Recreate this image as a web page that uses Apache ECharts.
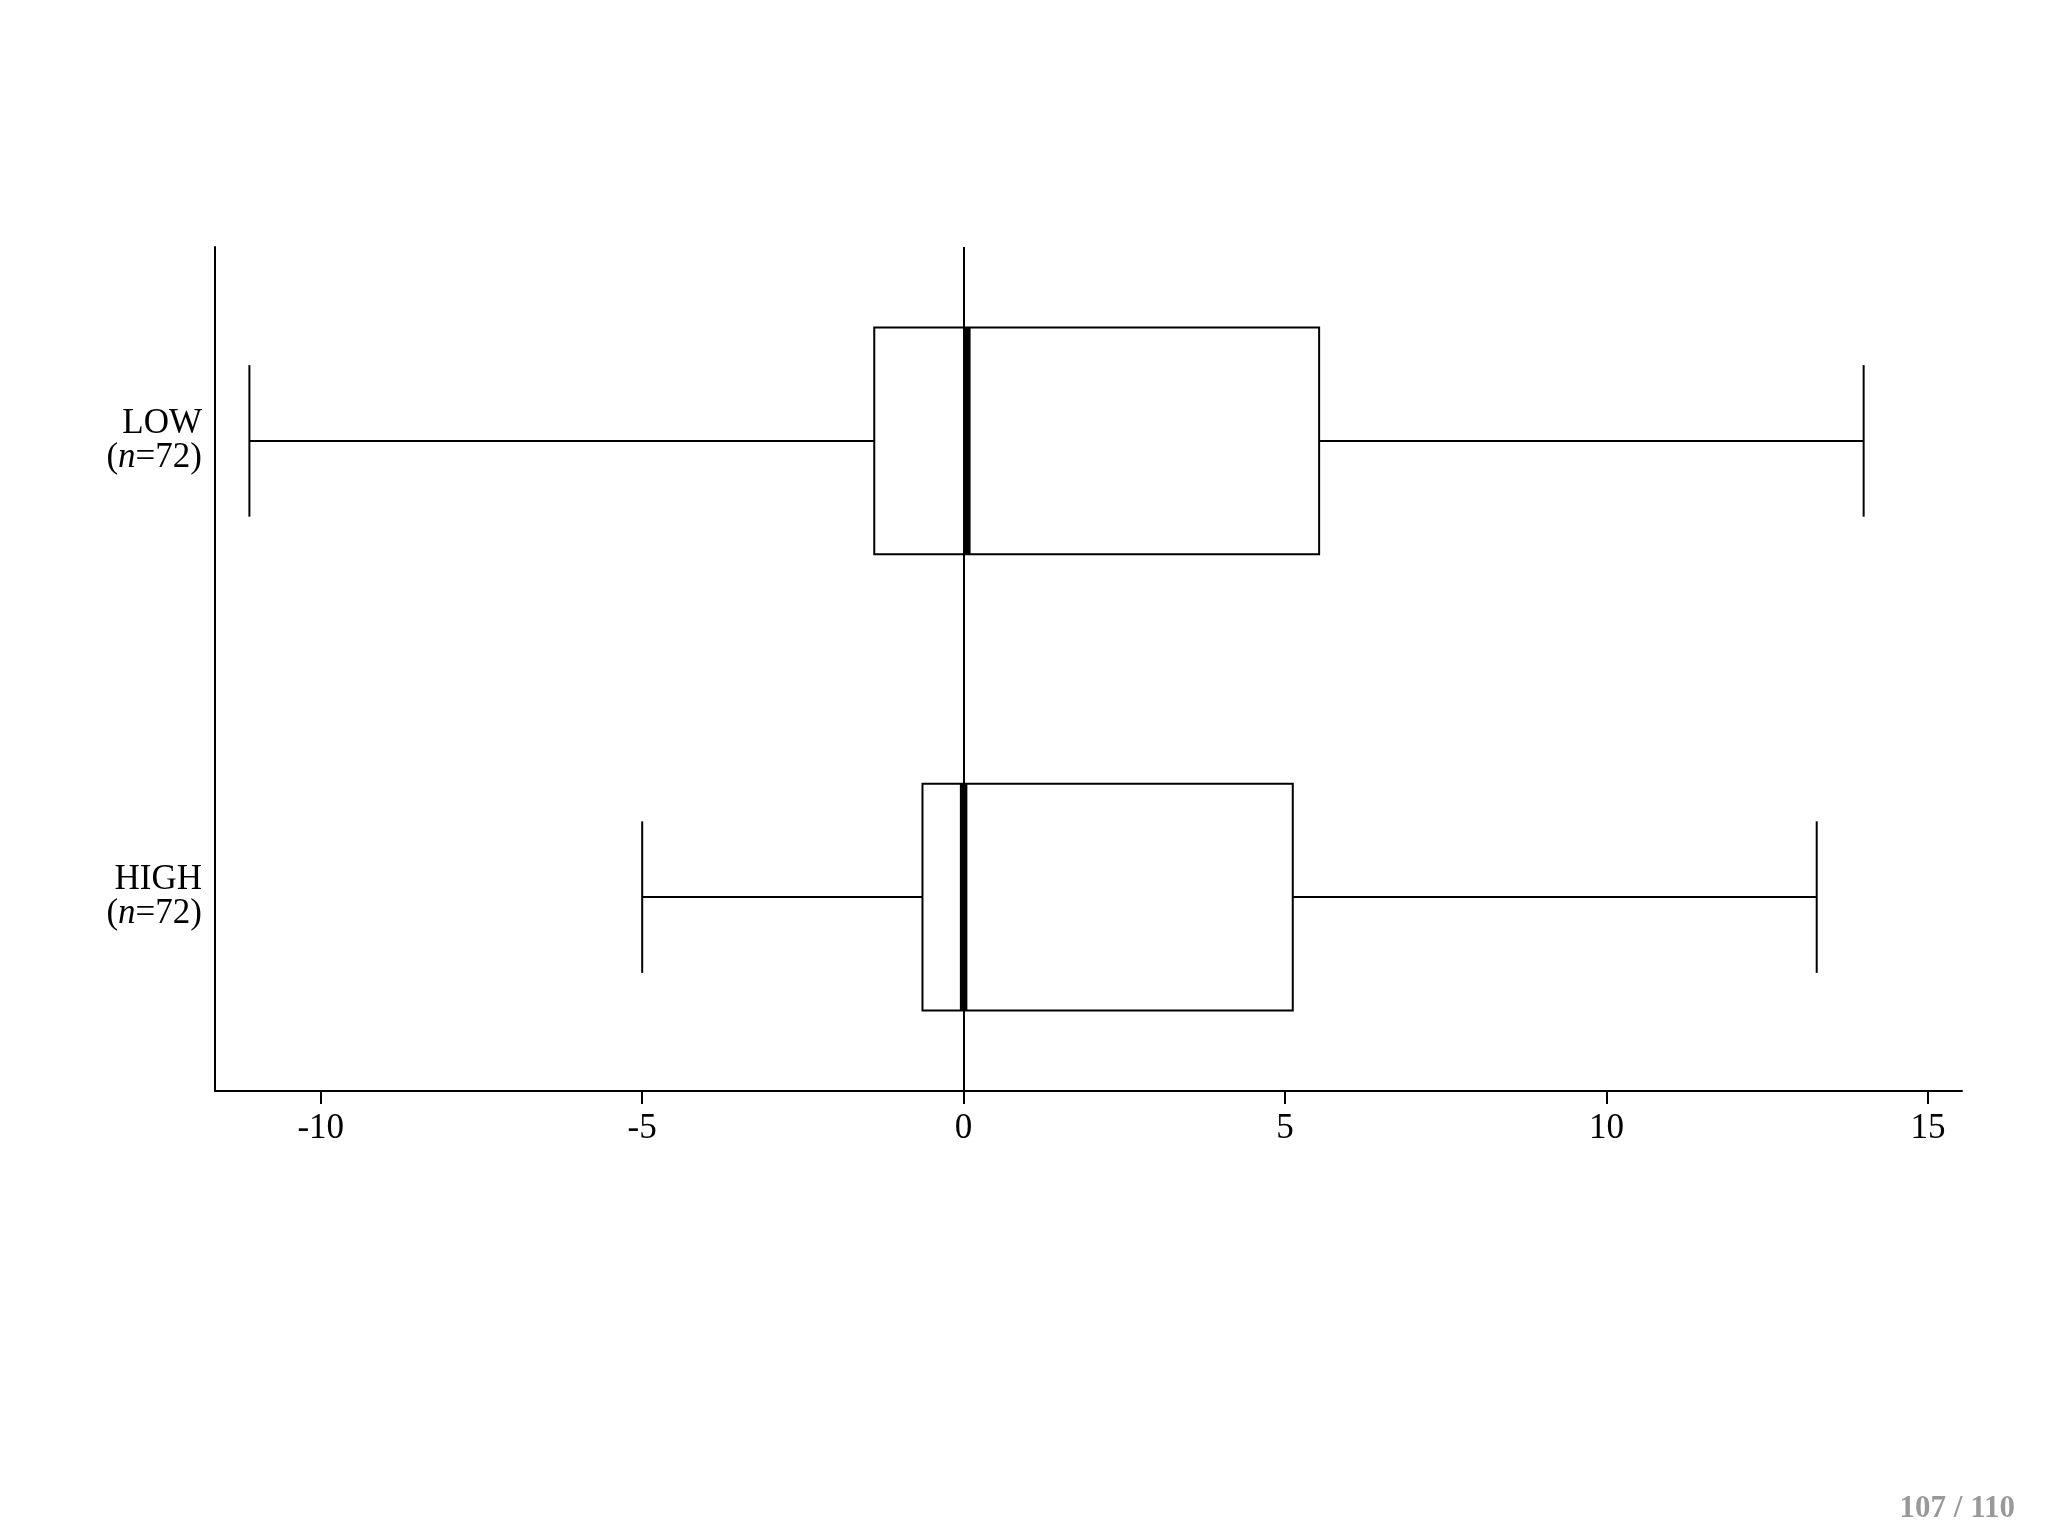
<!DOCTYPE html>
<html>
<head>
<meta charset="utf-8">
<script src="https://cdn.jsdelivr.net/npm/echarts@6/dist/echarts.min.js"></script>
<style>
  html, body { margin: 0; padding: 0; background: #fff; }
  #main { width: 2048px; height: 1536px; }
</style>
</head>
<body>
<div id="main"></div>
<script>
  // groups, top to bottom
  const categories = ['LOW', 'HIGH'];
  const counts = [72, 72];
  // five-number summaries
  const mins = [-11.11, -5.0];
  const q1s = [-1.39, -0.64];
  const medians = [0.05, 0.0];
  const q3s = [5.53, 5.12];
  const maxs = [14.0, 13.27];
  const xTicks = [-10, -5, 0, 5, 10, 15];

  var font = 'Liberation Serif';
  var dom = document.getElementById('main');
  var myChart = echarts.init(dom, null, { renderer: 'canvas' });

  var boxData = categories.map(function (c, i) {
    return [i + 1, mins[i], q1s[i], medians[i], q3s[i], maxs[i]];
  });

  function renderBox(params, api) {
    var y = api.value(0);
    var pMin = api.coord([api.value(1), y]);
    var pQ1 = api.coord([api.value(2), y]);
    var pMed = api.coord([api.value(3), y]);
    var pQ3 = api.coord([api.value(4), y]);
    var pMax = api.coord([api.value(5), y]);
    var half = api.size([0, 0.2484])[1];
    var cap = api.size([0, 0.1661])[1];
    var thin = { stroke: '#000', lineWidth: 2, fill: null };
    return {
      type: 'group',
      children: [
        { type: 'line', shape: { x1: pMin[0], y1: pMin[1], x2: pQ1[0], y2: pQ1[1] }, style: thin },
        { type: 'line', shape: { x1: pQ3[0], y1: pQ3[1], x2: pMax[0], y2: pMax[1] }, style: thin },
        { type: 'line', shape: { x1: pMin[0], y1: pMin[1] - cap, x2: pMin[0], y2: pMin[1] + cap }, style: thin },
        { type: 'line', shape: { x1: pMax[0], y1: pMax[1] - cap, x2: pMax[0], y2: pMax[1] + cap }, style: thin },
        {
          type: 'rect',
          shape: { x: pQ1[0], y: pQ1[1] - half, width: pQ3[0] - pQ1[0], height: 2 * half },
          style: { stroke: '#000', lineWidth: 2, fill: 'rgba(255,255,255,0)' }
        },
        {
          type: 'line',
          z2: 10,
          shape: { x1: pMed[0], y1: pMed[1] - half, x2: pMed[0], y2: pMed[1] + half },
          style: { stroke: '#000', lineWidth: 7.5 }
        }
      ]
    };
  }

  var option = {
    backgroundColor: '#fff',
    animation: false,
    grid: { left: 215, top: 247, right: 86, bottom: 445 },
    xAxis: {
      type: 'value',
      min: -11.645,
      max: 15.53,
      axisLine: { onZero: false, lineStyle: { color: '#000', width: 2 } },
      axisTick: { show: true, customValues: xTicks, length: 13, lineStyle: { color: '#000', width: 2 } },
      axisLabel: {
        customValues: xTicks,
        margin: 20,
        color: '#000',
        fontFamily: font,
        fontSize: 35
      },
      splitLine: { show: false }
    },
    yAxis: {
      type: 'value',
      inverse: true,
      min: 0.575,
      max: 2.425,
      axisLine: { show: true, onZero: false, lineStyle: { color: '#000', width: 2 } },
      axisTick: { show: false },
      splitLine: { show: false },
      axisLabel: {
        customValues: [1, 2],
        margin: 13,
        formatter: function (v) {
          var i = Math.round(v) - 1;
          return '{t|' + categories[i] + '}\n{t|(}{i|n}{t|=' + counts[i] + ')}';
        },
        rich: {
          t: { fontFamily: font, fontSize: 35, color: '#000', lineHeight: 34, align: 'right' },
          i: { fontFamily: font, fontSize: 35, fontStyle: 'italic', color: '#000', lineHeight: 34, align: 'right' }
        }
      }
    },
    graphic: [{
      type: 'text',
      right: 33,
      bottom: 12,
      style: {
        text: '107 / 110',
        fill: '#999',
        fontFamily: font,
        fontWeight: 'bold',
        fontSize: 31
      }
    }],
    series: [{
      type: 'custom',
      renderItem: renderBox,
      data: boxData,
      encode: { x: [1, 2, 3, 4, 5], y: 0 },
      markLine: {
        silent: true,
        symbol: 'none',
        label: { show: false },
        lineStyle: { color: '#000', width: 2, type: 'solid' },
        data: [{ xAxis: 0 }]
      }
    }]
  };

  myChart.setOption(option);
  window.addEventListener('resize', myChart.resize);
</script>
</body>
</html>
